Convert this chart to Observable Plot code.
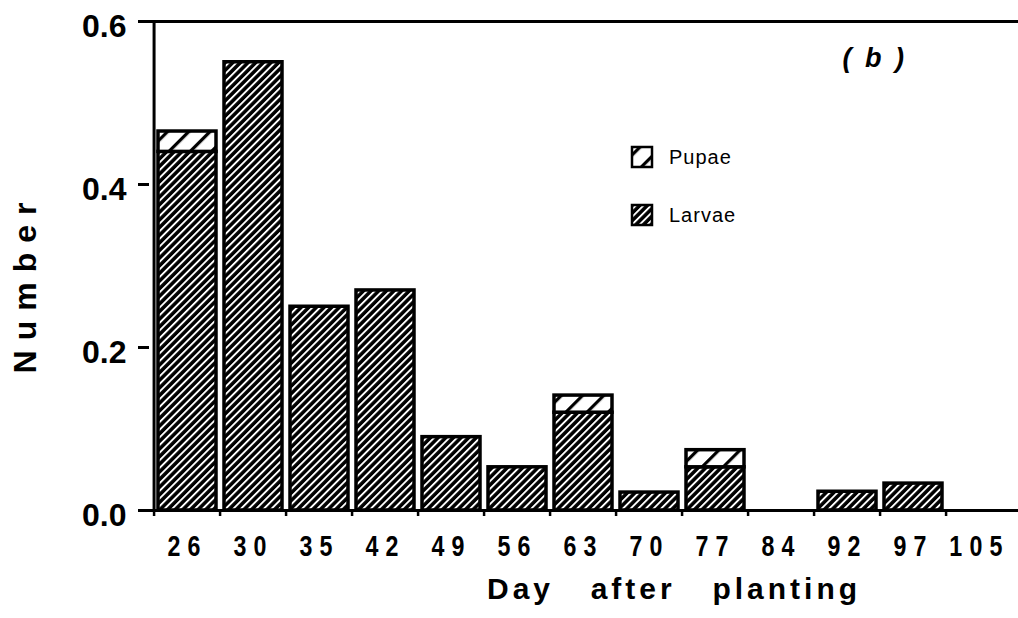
<!DOCTYPE html>
<html><head><meta charset="utf-8">
<script src="https://cdn.jsdelivr.net/npm/d3@7"></script>
<script src="https://cdn.jsdelivr.net/npm/@observablehq/plot@0.6"></script>
<style>
body{margin:0;background:#fff;}
#chart svg{display:block;}
</style></head><body><div id="chart"></div>
<script>
// ---- data ----
const days = ["26","30","35","42","49","56","63","70","77","84","92","97","105"];
const larvae = [0.44,0.55,0.25,0.27,0.09,0.053,0.12,0.022,0.053,0,0.023,0.033,0];
const pupae  = [0.025,0,0,0,0,0,0.021,0,0.021,0,0,0,0];
const yTicks = [0, 0.2, 0.4, 0.6];
const seriesNames = ["Pupae","Larvae"];
const panelLabel = "( b )";
const xTitle = "Day  after  planting";
const yTitle = "Number";

const rows = days.map((d,i)=>({day:d, larvae:larvae[i], pupae:pupae[i], total:larvae[i]+pupae[i]}));

const W=1018, H=618, mL=149, mR=0, mT=21, mB=108;
const step = (W-mL-mR)/days.length;
const sans = "'Liberation Sans', Arial, Helvetica, sans-serif";

const chart = Plot.plot({
  width: W, height: H, marginLeft: mL, marginRight: mR, marginTop: mT, marginBottom: mB,
  style: {background:"#fff", color:"#000", fontFamily: sans},
  x: {type:"band", domain: days, paddingInner: 0.12, paddingOuter: 0.06, axis: null},
  y: {domain:[0,0.6], axis: null},
  marks: [
    Plot.barY(rows.filter(r=>r.larvae>0), {x:"day", y1:0, y2:"larvae", fill:"url(#hatch-larvae)", stroke:"#000", strokeWidth:3.5}),
    Plot.barY(rows.filter(r=>r.pupae>0), {x:"day", y1:"larvae", y2:"total", fill:"url(#hatch-pupae)", stroke:"#000", strokeWidth:3.5}),
    Plot.ruleY([0, 0.6], {stroke:"#000", strokeWidth:3}),
    Plot.ruleX([days[0]], {dx:-step/2, stroke:"#000", strokeWidth:3}),
    Plot.axisY({ticks:yTicks, text:null, tickSize:11, strokeWidth:3, label:null}),
    Plot.axisY({ticks:yTicks, tickFormat:d3.format(".1f"), tickSize:0, tickPadding:23, dy:5,
      fontSize:32, fontWeight:"bold", fontFamily:sans, label:null}),
    Plot.axisX({text:null, tickSize:6, strokeWidth:2.5, dx:-step/2, label:null}),
    Plot.axisX({tickSize:0, tickPadding:26, dy:19, fontSize:29, fontWeight:"bold", fontFamily:sans, label:null}),
    Plot.text([xTitle], {frameAnchor:"bottom", dx:90, dy:79, fontSize:30, fontWeight:"bold", fontFamily:sans, lineAnchor:"middle"}),
    Plot.text([panelLabel], {frameAnchor:"top-left", dx:693, dy:45, textAnchor:"start", lineAnchor:"bottom",
      fontSize:27, fontWeight:"bold", fontStyle:"italic", fontFamily:sans})
  ]
});

const svg = d3.select(chart);
const defs = svg.insert("defs", ":first-child");
const pl = defs.append("pattern").attr("id","hatch-larvae").attr("patternUnits","userSpaceOnUse")
  .attr("width",5.4).attr("height",10).attr("patternTransform","rotate(45)");
pl.append("rect").attr("width",5.4).attr("height",10).attr("fill","#000");
pl.append("rect").attr("x",0).attr("width",1.9).attr("height",10).attr("fill","#fff");
const pp = defs.append("pattern").attr("id","hatch-pupae").attr("patternUnits","userSpaceOnUse")
  .attr("width",15).attr("height",15).attr("patternTransform","rotate(45)");
pp.append("rect").attr("width",15).attr("height",15).attr("fill","#fff");
pp.append("rect").attr("x",0).attr("width",3.2).attr("height",15).attr("fill","#000");

// condensed, spaced x tick labels (horizontal squeeze around each label's anchor)
svg.selectAll("text").filter(function(){return days.includes(this.textContent);}).each(function(){
  const t = d3.select(this);
  const tr = t.attr("transform") || "";
  const x = t.attr("x"), y = t.attr("y");
  if (x !== null || y !== null) {
    t.attr("transform", `translate(${+x||0},${+y||0}) ${tr} scale(0.8,1)`).attr("x", null).attr("y", null);
  } else {
    t.attr("transform", `${tr} scale(0.8,1)`);
  }
  t.style("letter-spacing","9px");
});

svg.selectAll("text").filter(function(){return this.textContent===xTitle;})
  .style("letter-spacing","4px").style("word-spacing","6px").style("white-space","pre");
svg.selectAll("text").filter(function(){return this.textContent===panelLabel;})
  .style("letter-spacing","3px").style("white-space","pre");

// y-axis title
svg.append("text").attr("transform","translate(25,283) rotate(-90)")
  .attr("text-anchor","middle").attr("dominant-baseline","central")
  .attr("font-family",sans).attr("font-size",32).attr("font-weight","bold")
  .style("letter-spacing","10px").text(yTitle);

// legend
const legFill = {"Pupae":"url(#hatch-pupae)", "Larvae":"url(#hatch-larvae)"};
seriesNames.forEach((name,i)=>{
  const y0 = 147 + i*58;
  svg.append("rect").attr("x",632).attr("y",y0).attr("width",20).attr("height",20)
    .attr("fill",legFill[name]).attr("stroke","#000").attr("stroke-width",2.5);
  svg.append("text").attr("x",669).attr("y",y0+17).attr("text-anchor","start")
    .attr("font-family",sans).attr("font-size",20)
    .style("letter-spacing","1px").text(name);
});

document.getElementById("chart").appendChild(chart);
</script>
</body></html>
